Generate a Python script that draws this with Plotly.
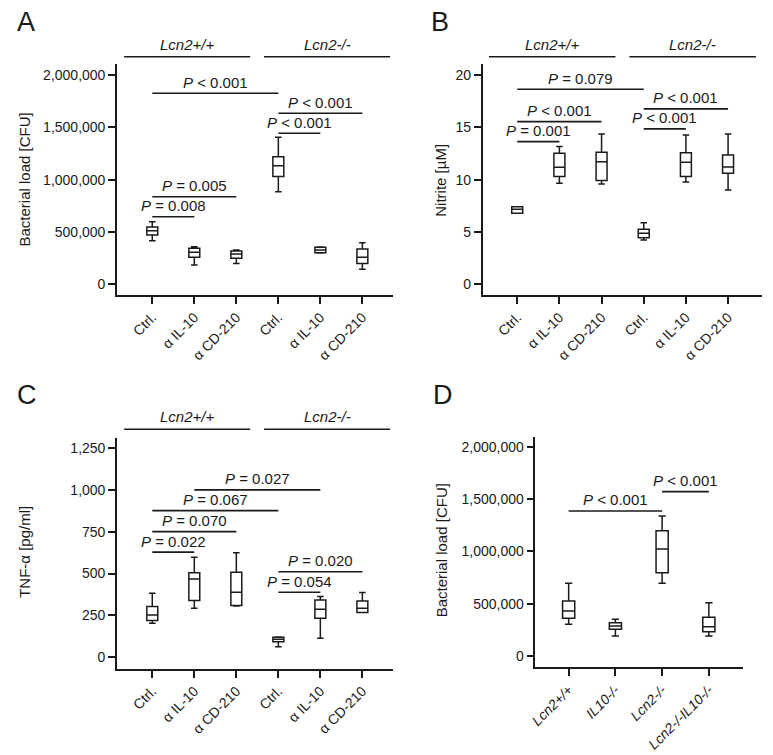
import plotly.graph_objects as go

W, H = 773, 755

# ---------------- data ----------------
TREAT = ["Ctrl.", "α IL-10", "α CD-210", "Ctrl.", "α IL-10", "α CD-210"]
GENO = ["Lcn2+/+", "Lcn2-/-"]
GENO_D = ["Lcn2+/+", "IL10-/-", "Lcn2-/-", "Lcn2-/-IL10-/-"]

# Panel A: bacterial load [CFU]
A_low  = [417000, 185000, 200000, 885000, 300000, 143000]
A_q1   = [471000, 258000, 248000, 1029000, 302000, 200000]
A_med  = [512000, 306000, 290000, 1134000, 328000, 258000]
A_q3   = [548000, 344000, 318000, 1220000, 354000, 338000]
A_high = [598000, 360000, 328000, 1405000, 356000, 398000]
A_sig = [(0, 3, 1826000, "&lt; 0.001"), (3, 5, 1635000, "&lt; 0.001"), (3, 4, 1444000, "&lt; 0.001"),
         (0, 2, 837000, "= 0.005"), (0, 1, 646000, "= 0.008")]

# Panel B: nitrite [uM]
B_low  = [6.80, 9.66, 9.59, 4.24, 9.78, 9.02]
B_q1   = [6.80, 10.29, 9.91, 4.46, 10.29, 10.61]
B_med  = [7.17, 11.18, 11.72, 4.88, 11.66, 11.21]
B_q3   = [7.42, 12.52, 12.62, 5.26, 12.58, 12.36]
B_high = [7.42, 13.16, 14.37, 5.89, 14.27, 14.37]
B_sig = [(0, 3, 18.64, "= 0.079"), (0, 2, 15.54, "&lt; 0.001"), (0, 1, 13.63, "= 0.001"),
         (3, 5, 16.76, "&lt; 0.001"), (3, 4, 14.85, "&lt; 0.001")]

# Panel C: TNF-alpha [pg/ml]
C_low  = [202, 292, 305, 62, 112, 266]
C_q1   = [218, 338, 308, 92, 232, 266]
C_med  = [252, 468, 388, 106, 286, 292]
C_q3   = [302, 505, 508, 118, 342, 336]
C_high = [382, 598, 625, 120, 362, 386]
C_sig = [(1, 4, 1001, "= 0.027"), (0, 3, 877, "= 0.067"), (0, 2, 751, "= 0.070"),
         (0, 1, 628, "= 0.022"), (3, 5, 511, "= 0.020"), (3, 4, 388, "= 0.054")]

# Panel D: bacterial load [CFU]
D_low  = [303000, 191000, 695000, 191000]
D_q1   = [360000, 255000, 796000, 232000]
D_med  = [430000, 287000, 1023000, 280000]
D_q3   = [526000, 318000, 1198000, 370000]
D_high = [695000, 351000, 1338000, 510000]
D_sig = [(0, 2, 1386000, "&lt; 0.001"), (2, 3, 1571000, "&lt; 0.001")]

# ---------------- styling helpers ----------------
FONT = "Liberation Sans, Arial, Helvetica, sans-serif"
INK = "#1a1a1a"
LW = 1.6


def px_x(p):
    return p / W


def px_y(p):
    return 1 - p / H


fig = go.Figure()
shapes = []
annots = []

panels = [
    dict(ax="", low=A_low, q1=A_q1, med=A_med, q3=A_q3, high=A_high, sig=A_sig,
         xd=(111, 390), yd=(64, 295), xr=[-0.84, 5.74], yr=[-102000, 2105000],
         yt=[0, 500000, 1000000, 1500000, 2000000], title="Bacterial load [CFU]", tpos=(16.7, 180),
         letter="A", lpos=(8, 22), groups=True, labels=TREAT, gy=(45, 56.7)),
    dict(ax="2", low=B_low, q1=B_q1, med=B_med, q3=B_q3, high=B_high, sig=B_sig,
         xd=(480, 761.7), yd=(64, 295), xr=[-0.82, 5.8], yr=[-1.02, 21.05],
         yt=[0, 5, 10, 15, 20], title="Nitrite [µM]", tpos=(436.7, 180),
         letter="B", lpos=(426, 22), groups=True, labels=TREAT, gy=(45, 56.7)),
    dict(ax="3", low=C_low, q1=C_q1, med=C_med, q3=C_q3, high=C_high, sig=C_sig,
         xd=(111, 390), yd=(438.3, 668.7), xr=[-0.84, 5.74], yr=[-70, 1310],
         yt=[0, 250, 500, 750, 1000, 1250], title="TNF-α [pg/ml]", tpos=(18.3, 551.7),
         letter="C", lpos=(8, 395), groups=True, labels=TREAT, gy=(416.7, 429.3)),
    dict(ax="4", low=D_low, q1=D_q1, med=D_med, q3=D_q3, high=D_high, sig=D_sig,
         xd=(533.3, 742.7), yd=(436.7, 667.3), xr=[-0.71, 3.73], yr=[-108000, 2095600],
         yt=[0, 500000, 1000000, 1500000, 2000000], title="Bacterial load [CFU]", tpos=(438.3, 550),
         letter="D", lpos=(428, 395), groups=False, labels=["<i>%s</i>" % g for g in GENO_D], gy=None),
]

layout_axes = {}
for p in panels:
    n = len(p["med"])
    xs = list(range(n))
    xa = "x" + p["ax"]
    ya = "y" + p["ax"]
    fig.add_trace(go.Box(
        x=xs, q1=p["q1"], median=p["med"], q3=p["q3"],
        lowerfence=p["low"], upperfence=p["high"],
        xaxis=xa, yaxis=ya, width=0.26, whiskerwidth=0.6,
        fillcolor="white", line=dict(color=INK, width=1.5),
        boxpoints=False, hoverinfo="skip", showlegend=False,
    ))
    axis_common = dict(showline=True, linecolor=INK, linewidth=LW, ticks="outside",
                       ticklen=7, tickwidth=LW, tickcolor=INK, showgrid=False, zeroline=False,
                       tickfont=dict(family=FONT, size=14, color=INK), fixedrange=True)
    layout_axes["xaxis" + p["ax"]] = dict(
        domain=[px_x(p["xd"][0]), px_x(p["xd"][1])], anchor=ya, range=p["xr"],
        tickmode="array", tickvals=xs, ticktext=p["labels"], tickangle=-45, **axis_common)
    layout_axes["yaxis" + p["ax"]] = dict(
        domain=[px_y(p["yd"][1]), px_y(p["yd"][0])], anchor=xa, range=p["yr"],
        tickmode="array", tickvals=p["yt"], tickformat=",d", **axis_common)

    # significance brackets
    for x0, x1, yv, lab in p["sig"]:
        shapes.append(dict(type="line", xref=xa, yref=ya, x0=x0, x1=x1, y0=yv, y1=yv,
                           line=dict(color=INK, width=LW)))
        annots.append(dict(xref=xa, yref=ya, x=(x0 + x1) / 2, y=yv, yshift=11,
                           text="<i>P</i> " + lab, showarrow=False, yanchor="middle",
                           font=dict(family=FONT, size=15, color=INK)))

    # genotype group labels
    if p["groups"]:
        for (g0, g1), g in zip([(-0.67, 2.33), (2.66, 5.66)], GENO):
            shapes.append(dict(type="line", xref=xa, yref="paper", x0=g0, x1=g1,
                               y0=px_y(p["gy"][1]), y1=px_y(p["gy"][1]),
                               line=dict(color=INK, width=LW)))
            annots.append(dict(xref=xa, yref="paper", x=(g0 + g1) / 2, y=px_y(p["gy"][0]),
                               text="<i>%s</i>" % g, showarrow=False, yanchor="middle",
                               font=dict(family=FONT, size=15, color=INK)))

    # axis title
    annots.append(dict(xref="paper", yref="paper", x=px_x(p["tpos"][0]), y=px_y(p["tpos"][1]),
                       text=p["title"], textangle=-90, showarrow=False,
                       xanchor="center", yanchor="middle",
                       font=dict(family=FONT, size=15, color=INK)))
    # panel letter
    annots.append(dict(xref="paper", yref="paper", x=px_x(p["lpos"][0]), y=px_y(p["lpos"][1]),
                       text=p["letter"], showarrow=False, xanchor="left", yanchor="middle",
                       font=dict(family=FONT, size=27, color=INK)))

fig.update_layout(
    width=W, height=H, margin=dict(l=0, r=0, t=0, b=0),
    paper_bgcolor="white", plot_bgcolor="white",
    showlegend=False, shapes=shapes, annotations=annots,
    font=dict(family=FONT, color=INK),
    **layout_axes,
)

fig.write_html("out.html", config={"displayModeBar": False},
               post_script="document.body.style.margin='0px';document.body.style.overflow='hidden';")
